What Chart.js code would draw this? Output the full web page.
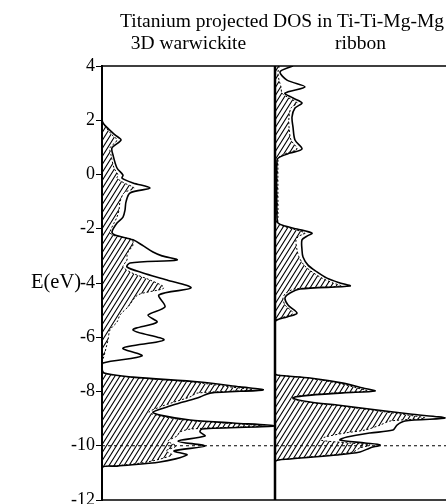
<!DOCTYPE html>
<html>
<head>
<meta charset="utf-8">
<script src="https://cdn.jsdelivr.net/npm/chart.js@4.4.0/dist/chart.umd.min.js"></script>
<style>
  html, body { margin: 0; padding: 0; background: #fff; overflow: hidden; }
  canvas { display: block; }
</style>
</head>
<body>
<canvas id="dos" width="446" height="504"></canvas>
<script>
// energies (eV) and projected DOS (arb. units)
var warwickiteE = [4.0, 2.12, 1.90, 1.46, 1.27, 0.98, 0.72, 0.24, -0.02, -0.13, -0.31, -0.50, -0.68, -1.01, -1.31, -1.57, -1.79,
    -2.12, -2.23, -2.41, -2.60, -2.86, -3.00, -3.15, -3.26, -3.41, -3.63, -3.89, -4.18, -4.44, -4.88, -5.18, -5.44, -5.73,
    -6.10, -6.40, -6.69, -6.95, -7.15, -7.32, -7.47, -7.65, -7.83, -7.94, -8.06, -8.20, -8.39, -8.57, -8.76, -8.87, -9.05,
    -9.16, -9.27, -9.38, -9.49, -9.64, -9.83, -10.01, -10.19, -10.34, -10.60, -10.75, -10.82, -12.0];
var warwickiteTotal = [0, 0, 1, 13, 19, 10, 11, 15, 21, 20, 31, 48, 28, 24, 23, 21, 15,
    10, 13, 31, 40, 51, 60, 75, 28, 25, 41, 65, 89, 57, 63, 46, 55, 31,
    62, 21, 40, 1, 0, 2, 31, 98, 138, 161, 108, 98, 81, 65, 51, 58, 88,
    131, 172, 100, 98, 103, 76, 103, 72, 85, 58, 15, 0, 0];
var warwickiteTi = [0, 0, 1, 10, 15, 8, 9, 12, 16, 15, 22, 32, 22, 18, 17, 15, 12,
    8, 10, 30, 31, 26, 25, 25, 23, 21, 30, 48, 62, 36, 26, 18, 15, 8,
    6, 4, 2, 0, 0, 2, 28, 90, 128, 150, 95, 88, 72, 58, 47, 54, 82,
    122, 160, 90, 78, 75, 66, 74, 64, 70, 45, 12, 0, 0];

var ribbonE = [4.0, 3.96, 3.78, 3.48, 3.23, 3.00, 2.82, 2.64, 2.45, 2.12, 1.75, 1.27, 0.94, 0.79, 0.65, 0.53, -1.60,
    -1.79, -1.90, -2.01, -2.16, -2.27, -2.41, -2.78, -3.04, -3.34, -3.59, -3.82, -4.00, -4.11, -4.22, -4.37, -4.55,
    -4.81, -5.11, -5.25, -5.36, -5.44, -7.30, -7.39, -7.50, -7.69, -7.87, -7.98, -8.05, -8.16, -8.24, -8.39, -8.50,
    -8.68, -8.83, -8.98, -9.09, -9.24, -9.42, -9.53, -9.68, -9.79, -9.90, -9.97, -10.08, -10.23, -10.34, -10.49, -10.60, -12.0];
var ribbonTotal = [18, 15, 5, 12, 30, 10, 18, 27, 20, 17, 18, 20, 27, 15, 5, 2, 2,
    3, 10, 22, 37, 32, 27, 27, 28, 33, 42, 52, 65, 75, 25, 15, 10,
    13, 22, 12, 2, 0, 0, 2, 35, 68, 88, 100, 68, 28, 18, 35, 62,
    102, 135, 170, 130, 122, 118, 95, 72, 65, 90, 105, 95, 85, 62, 15, 0, 0];
var ribbonTi = [4, 4, 3, 4, 6, 7, 14, 22, 16, 14, 14, 16, 22, 12, 4, 3, 3,
    3, 8, 18, 30, 24, 21, 22, 24, 29, 37, 47, 58, 66, 20, 11, 8,
    10, 18, 9, 1, 0, 0, 2, 32, 63, 82, 92, 62, 25, 16, 32, 58,
    96, 125, 150, 115, 105, 90, 70, 50, 45, 75, 95, 85, 78, 56, 12, 0, 0];

var eTicks = [4, 2, 0, -2, -4, -6, -8, -10, -12];
var fermiLevel = -10;
var mainTitle = 'Titanium projected DOS in Ti-Ti-Mg-Mg';
var panelTitles = ['3D warwickite', 'ribbon'];
var axisLabel = 'E(eV)';

var SERIF = '"Liberation Serif", "Times New Roman", serif';

function makeHatch() {
    var c = document.createElement('canvas');
    c.width = 5;
    c.height = 8;
    var g = c.getContext('2d');
    g.strokeStyle = '#000';
    g.lineWidth = 1.1;
    g.beginPath();
    for (var k = -1; k <= 1; k++) {
        g.moveTo(-0.5 + k * 5, 8.8);
        g.lineTo(5.5 + k * 5, -0.8);
    }
    g.stroke();
    return g.createPattern(c, 'repeat');
}
var hatch = makeHatch();

function curve(E, vals, axis, dashed) {
    var pts = [];
    for (var i = 0; i < E.length; i++) {
        pts.push({ x: vals[i], y: E[i] });
    }
    return {
        data: pts,
        xAxisID: axis,
        borderColor: '#000',
        borderWidth: dashed ? 1 : 1.6,
        borderDash: dashed ? [2, 2] : [],
        backgroundColor: dashed ? hatch : 'rgba(0,0,0,0)',
        fill: dashed ? 'origin' : false,
        pointRadius: 0,
        tension: 0.3
    };
}

var framePlugin = {
    id: 'frame',
    afterDatasetsDraw: function (chart) {
        var ctx = chart.ctx, a = chart.chartArea;
        var yf = chart.scales.y.getPixelForValue(fermiLevel);
        ctx.save();
        ctx.strokeStyle = '#000';
        ctx.lineWidth = 1;
        ctx.setLineDash([3, 3]);
        ctx.beginPath();
        ctx.moveTo(a.left, yf);
        ctx.lineTo(a.right, yf);
        ctx.stroke();
        ctx.setLineDash([]);
        ctx.lineWidth = 1.5;
        ctx.beginPath();
        ctx.moveTo(a.left, a.top);
        ctx.lineTo(a.right, a.top);
        ctx.moveTo(a.left, a.bottom);
        ctx.lineTo(a.right, a.bottom);
        ctx.stroke();
        ctx.lineWidth = 2.5;
        ctx.beginPath();
        ctx.moveTo(chart.scales.x2.left, a.top);
        ctx.lineTo(chart.scales.x2.left, a.bottom);
        ctx.stroke();
        ctx.restore();
    },
    afterDraw: function (chart) {
        var ctx = chart.ctx;
        var x1 = chart.scales.x1, x2 = chart.scales.x2;
        ctx.save();
        ctx.fillStyle = '#000';
        ctx.font = '19.5px ' + SERIF;
        ctx.textAlign = 'center';
        ctx.textBaseline = 'alphabetic';
        ctx.fillText(mainTitle, 282, 27);
        ctx.fillText(panelTitles[0], (x1.left + x1.right) / 2, 49);
        ctx.fillText(panelTitles[1], (x2.left + x2.right) / 2, 49);
        ctx.font = '20.5px ' + SERIF;
        ctx.textAlign = 'left';
        ctx.textBaseline = 'middle';
        ctx.fillText(axisLabel, 31, chart.scales.y.getPixelForValue(-4));
        ctx.restore();
    }
};

new Chart(document.getElementById('dos'), {
    type: 'line',
    data: {
        datasets: [
            curve(warwickiteE, warwickiteTotal, 'x1', false),
            curve(warwickiteE, warwickiteTi, 'x1', true),
            curve(ribbonE, ribbonTotal, 'x2', false),
            curve(ribbonE, ribbonTi, 'x2', true)
        ]
    },
    options: {
        responsive: false,
        animation: false,
        indexAxis: 'y',
        layout: { padding: { top: 66, bottom: 4, left: 0, right: 0 } },
        plugins: { legend: { display: false }, tooltip: { enabled: false } },
        scales: {
            y: {
                type: 'linear',
                position: 'left',
                min: -12,
                max: 4,
                afterBuildTicks: function (scale) {
                    scale.ticks = eTicks.map(function (v) { return { value: v }; });
                },
                afterFit: function (scale) {
                    scale.width = 102;
                    scale.paddingTop = 0;
                    scale.paddingBottom = 0;
                },
                ticks: { color: '#000', padding: 1, font: { family: SERIF, size: 18 } },
                grid: { drawOnChartArea: false, drawTicks: true, tickLength: 6, color: '#000', lineWidth: 1 },
                border: { display: true, color: '#000', width: 2 }
            },
            x1: {
                type: 'linear', position: 'bottom', stack: 'dos', stackWeight: 173,
                min: 0, max: 173, display: false
            },
            x2: {
                type: 'linear', position: 'bottom', stack: 'dos', stackWeight: 171,
                min: 0, max: 171, display: false
            }
        }
    },
    plugins: [framePlugin]
});
</script>
</body>
</html>
